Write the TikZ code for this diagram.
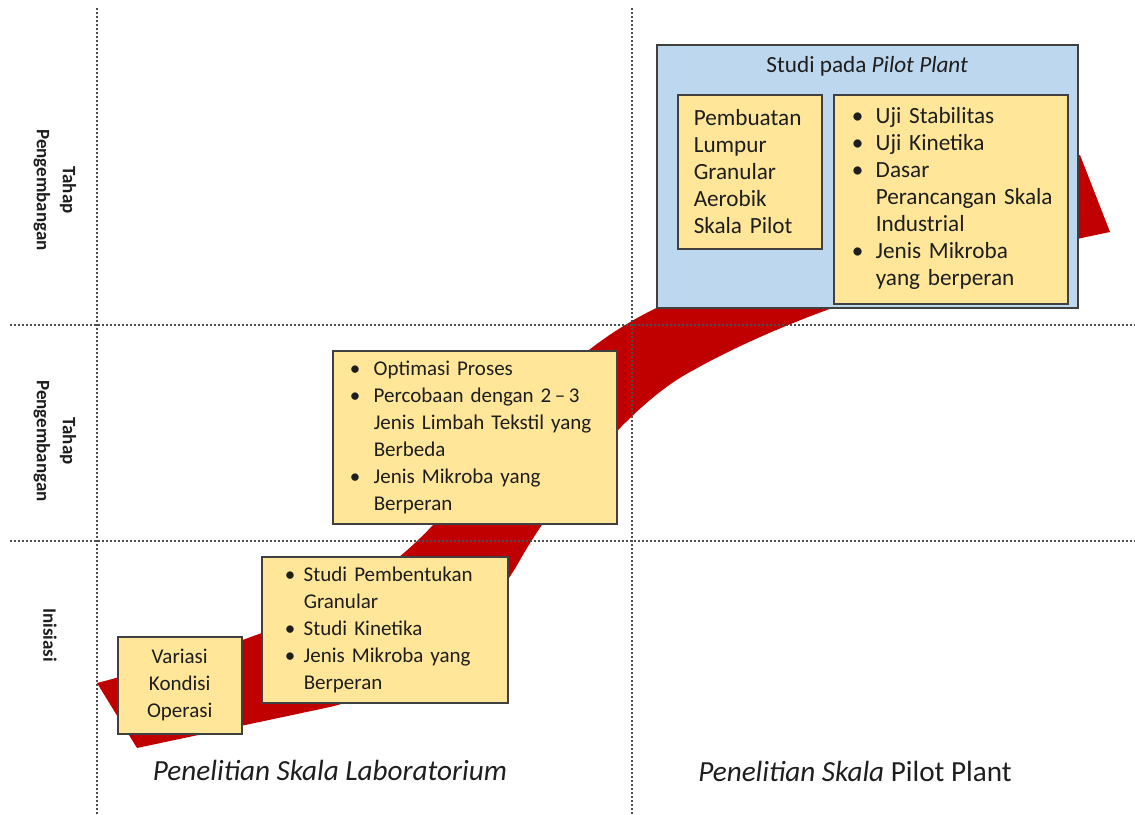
\documentclass[tikz,border=0pt]{standalone}
\usepackage{fontspec}
\setmainfont{Carlito}
\definecolor{bandred}{HTML}{C00000}
\definecolor{boxfill}{HTML}{FFE699}
\definecolor{pilotblue}{HTML}{BDD7EE}
\definecolor{boxline}{HTML}{404040}
\definecolor{txt}{HTML}{1E1E1E}
\newcommand{\bl}{\textbullet}
\tikzset{
  grid line/.style={gray!60!black, line width=.6pt, dash pattern=on 1.1pt off .9pt},
  stage/.style={draw=boxline, fill=boxfill, line width=.75pt, anchor=north west,
    inner ysep=0pt, text=txt, font=\fontsize{10.5}{13.5}\selectfont, align=left},
  pilot stage/.style={stage, font=\fontsize{11.6}{13.5}\selectfont},
  phase/.style={rotate=-90, font=\bfseries\fontsize{9.5}{13}\selectfont, align=center, text=txt},
  scale label/.style={font=\fontsize{14.6}{16}\selectfont, text=txt},
}
\begin{document}
\begin{tikzpicture}[x=.5pt, y=-.5pt]
\useasboundingbox (0,0) rectangle (1135,814);
% the red band behind everything
\fill[bandred] (97,683) .. controls (300,630) and (390,590) .. (470,480)
  .. controls (540,385) and (600,325) .. (700,290)
  .. controls (850,240) and (950,200) .. (1080,155)
  -- (1110,232)
  .. controls (950,265) and (800,310) .. (690,372)
  .. controls (620,410) and (545,515) .. (520,560)
  .. controls (490,614) and (420,685) .. (330,707)
  -- (137,748) -- cycle;
\foreach \x in {97,632}
\draw[grid line] (\x,8) -- (\x,814);
\foreach \y in {325,541}
\draw[grid line] (10,\y) -- (1135,\y);
% phases
\node[phase] (tahapA) at (55,190) {Tahap\\Pengembangan};
\node[phase] (tahapB) at (55,441) {Tahap\\Pengembangan};
\node[phase] (inisiasi) at (50,635) {Inisiasi};
% laboratory scale
\node[stage, align=center, inner xsep=0pt, minimum width=62pt, minimum height=48.5pt] (variasi) at (117,636) {Variasi\\Kondisi\\Operasi};
\node[stage, inner xsep=11.5pt, text width=100pt, minimum height=73pt] (granular) at (261,556) {%
\begin{tabular}{@{}p{9.5pt}@{}l@{}}
\bl & Studi Pembentukan\\
    & Granular\\
\bl & Studi Kinetika\\
\bl & Jenis Mikroba yang\\
    & Berperan
\end{tabular}};
\node[stage, inner xsep=8.5pt, text width=125pt, minimum height=86.5pt] (optimasi) at (332,350) {%
\begin{tabular}{@{}p{12pt}@{}l@{}}
\bl & Optimasi Proses\\
\bl & Percobaan dengan 2\,–\,3\\
    & Jenis Limbah Tekstil yang\\
    & Berbeda\\
\bl & Jenis Mikroba yang\\
    & Berperan
\end{tabular}};
% pilot plant
\node[draw=boxline, fill=pilotblue, line width=.75pt, anchor=north west, inner sep=0pt,
  minimum width=210.5pt, minimum height=131.5pt] (pilot) at (656,44) {};
\node[font=\fontsize{11.6}{13.5}\selectfont, text=txt] (pilottitle) at ([yshift=-11pt]pilot.north) {Studi pada \textit{Pilot Plant}};
\node[pilot stage, inner xsep=8pt, text width=56pt, minimum height=77pt] (lumpur) at (677,94) {Pembuatan\\Lumpur\\Granular\\Aerobik\\Skala Pilot};
\node[pilot stage, inner xsep=9pt, text width=99pt, minimum height=104.5pt] (uji) at (833,94) {%
\begin{tabular}{@{}p{12pt}@{}l@{}}
\bl & Uji Stabilitas\\
\bl & Uji Kinetika\\
\bl & Dasar\\
    & Perancangan Skala\\
    & Industrial\\
\bl & Jenis Mikroba\\
    & yang berperan
\end{tabular}};
% scale labels
\node[scale label] (labskala) at (330,770) {\textit{Penelitian Skala Laboratorium}};
\node[scale label] (pilotskala) at (855,771) {\textit{Penelitian Skala} Pilot Plant};
\end{tikzpicture}
\end{document}
